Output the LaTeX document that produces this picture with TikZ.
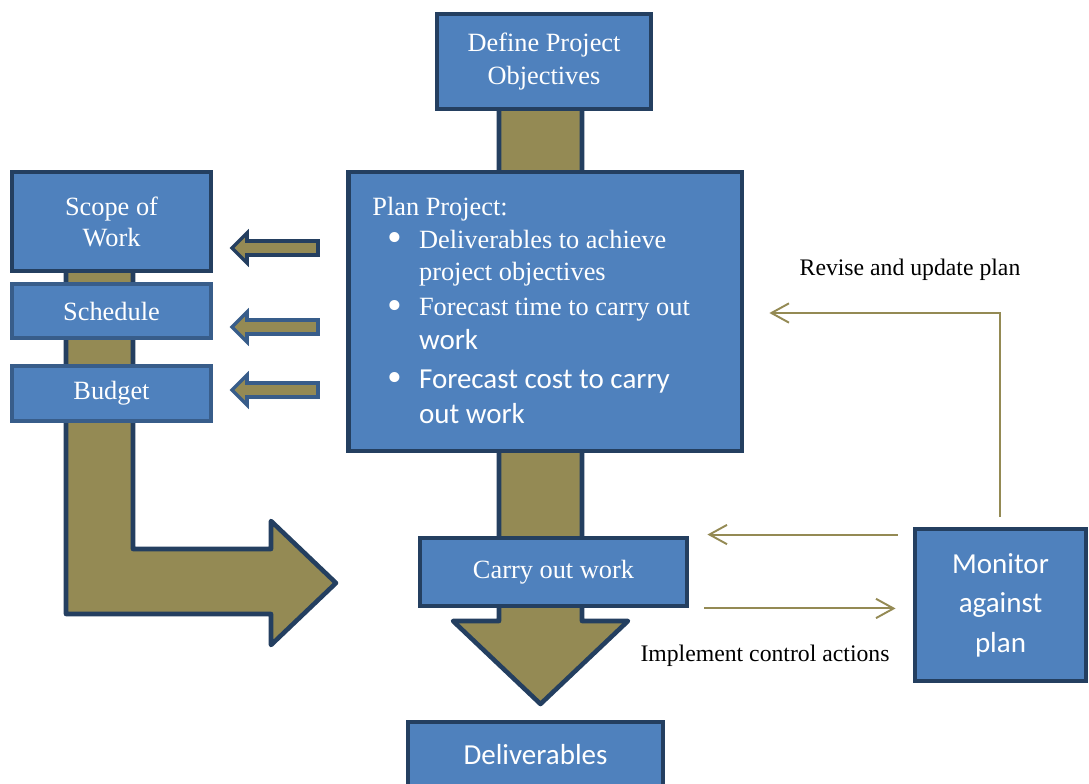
\documentclass[tikz,border=0pt]{standalone}
\usepackage{fontspec}
\setmainfont{Liberation Serif}
\setsansfont{Carlito}
\usepackage{tikz}
\usetikzlibrary{arrows.meta,calc}
\definecolor{boxblue}{HTML}{4F81BD}
\definecolor{boxline}{HTML}{243F60}
\definecolor{boxlinelt}{HTML}{385D8A}
\definecolor{arrolive}{HTML}{948A54}
\newcommand\plansf[1]{{\sffamily\fontsize{16.5}{20}\selectfont #1}}
\newcommand\planbul{\hspace*{8.6pt}\makebox[18pt][l]{\raisebox{-2pt}{\scalebox{1.6}{\textbullet}}}}

\begin{document}
\begin{tikzpicture}[x=0.02cm,y=-0.02cm,
    box/.style={draw=boxline,line width=2.8pt,fill=boxblue,text=white,align=center,inner sep=0pt},
    boxlt/.style={box,draw=boxlinelt,line width=2.3pt},
    serif/.style={font=\fontsize{15}{18.5}\selectfont},
    sans/.style={font=\sffamily\fontsize{16.5}{22.5}\selectfont},
    blockarrow/.style={draw=boxline,line width=2.6pt,fill=arrolive,line join=round},
    fb/.style={draw=arrolive,line width=1.1pt,-{Straight Barb[length=10pt,width=11pt]}},
    lbl/.style={font=\fontsize{13.5}{16}\selectfont,inner sep=0pt}]
      \useasboundingbox (0,0) rectangle (1089,784);
      \draw[blockarrow] (499,100) -- (499,621) -- (453,621) -- (540.5,704) -- (628,621) -- (582,621) -- (582,100) -- cycle;
      \draw[blockarrow] (66,260) -- (66,614) -- (271,614) -- (271,645) -- (336,583) -- (271,521) -- (271,549) -- (133,549) -- (133,260) -- cycle;
      \foreach \c/\col in {248/boxline,327/boxlinelt,390/boxlinelt}
        \draw[draw=\col,line width=2pt,fill=arrolive] (318,\c-7) -- (247,\c-7) -- (247,\c-15) -- (232,\c) -- (247,\c+15) -- (247,\c+7) -- (318,\c+7) -- cycle;

      \node[box,serif,minimum width=4.28cm,minimum height=1.9cm] (def) at (544,61.5) {Define Project\\Objectives};
      \node[box,minimum width=7.88cm,minimum height=5.58cm] (plan) at (545,311.5) {};
      \node[box,serif,minimum width=5.34cm,minimum height=1.36cm] (carry) at (553.5,572) {Carry out work};
      \node[box,sans,minimum width=5.1cm,minimum height=1.32cm] (deliv) at (535.5,755) {Deliverables};
      \node[box,serif,minimum width=3.98cm,minimum height=1.98cm] (scope) at (111.5,221.5) {Scope of\\[-0.8pt]Work};
      \node[boxlt,serif,minimum width=3.98cm,minimum height=1.08cm] (sched) at (111.5,311) {Schedule};
      \node[boxlt,serif,minimum width=3.98cm,minimum height=1.1cm] (budget) at (111.5,393.5) {Budget};
      \node[box,sans,minimum width=3.42cm,minimum height=3.04cm] (mon) at (1000.5,605) {Monitor\\against\\plan};

      \node[serif,text=white,align=left,inner sep=0pt,anchor=north west] (plantxt) at (372,197) {Plan Project:\\
        \planbul Deliverables to achieve\\
        \hspace*{26.6pt}project objectives\\[1.5pt]
        \planbul Forecast time to carry out\\[0.5pt]
        \hspace*{26.6pt}\plansf{work}\\[3.7pt]
        \planbul\plansf{Forecast cost to carry}\\[1.7pt]
        \hspace*{26.6pt}\plansf{out work}};

      \draw[fb] ($(mon.north)+(-0.5,-10)$) |- ($(plan.east)+(25,1.5)$);
      \draw[fb] ($(mon.west |- carry.north)+(-15,-1)$) -- ($(carry.north east)+(18,-1)$);
      \draw[fb] ($(carry.south east)+(15,0)$) -- ($(mon.west |- carry.south)+(-17,0)$);
      \node[lbl] (revlbl) at (910,270) {Revise and update plan};
      \node[lbl] (implbl) at (765,656) {Implement control actions};
    \end{tikzpicture}
\end{document}
